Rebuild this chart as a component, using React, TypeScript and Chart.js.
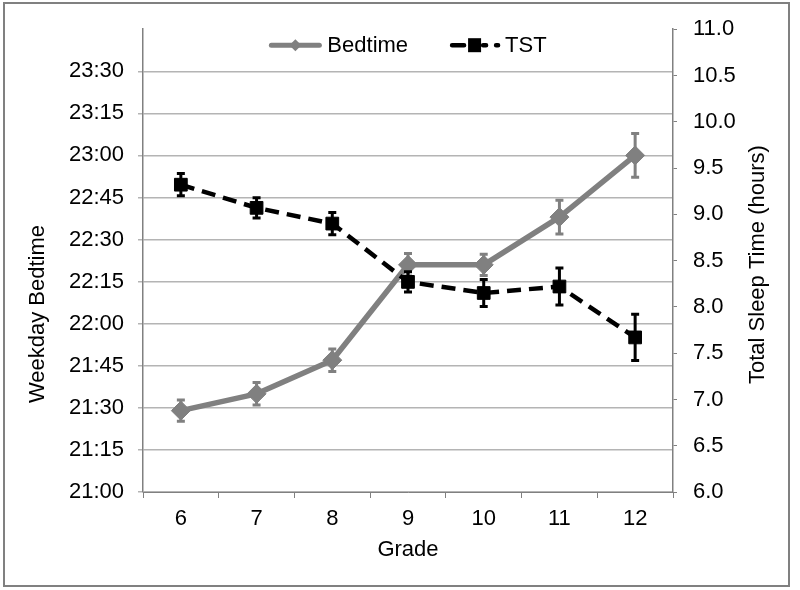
import React, { useEffect, useRef } from 'react';
import { Chart, registerables } from 'chart.js';

Chart.register(...registerables);

// ---- data ----
const grades = ['6', '7', '8', '9', '10', '11', '12'];
const bedtimes = ['21:29', '21:35', '21:47', '22:21', '22:21', '22:38', '23:00'];
const bedtimeErrMinutes = [3.8, 4, 4, 4, 3.8, 6, 7.8];
const tstHours = [9.32, 9.07, 8.9, 8.27, 8.15, 8.22, 7.67];
const tstErrHours = [0.12, 0.11, 0.12, 0.11, 0.145, 0.2, 0.25];
const bedtimeAxisRange = ['21:00', '23:45'];
const bedtimeStepMinutes = 15;
const tstAxisRange = [6, 11];
const tstStep = 0.5;

const toMin = (s: string) => {
  const [h, m] = s.split(':').map(Number);
  return h * 60 + m;
};
const fmtMin = (v: number) => {
  const h = Math.floor(v / 60);
  const m = Math.round(v - h * 60);
  return `${h}:${String(m).padStart(2, '0')}`;
};

const FONT = "'Liberation Sans', Arial, sans-serif";
const GRAY = '#808080';
const GRID = '#b4b4b4';

const errorBars = {
  id: 'errorBars',
  beforeDatasetDraw(chart: any, args: any) {
    const ds = chart.data.datasets[args.index];
    const errs = ds.errors;
    if (!errs) return;
    const scale = chart.scales[ds.yAxisID];
    const ctx = chart.ctx;
    ctx.save();
    ctx.strokeStyle = ds.errorColor;
    ctx.lineWidth = ds.errorWidth;
    ctx.setLineDash([]);
    args.meta.data.forEach((pt: any, i: number) => {
      const v = ds.data[i];
      const e = errs[i];
      const yt = scale.getPixelForValue(v + e);
      const yb = scale.getPixelForValue(v - e);
      const x = pt.x;
      const c = 4;
      ctx.beginPath();
      ctx.moveTo(x, yt);
      ctx.lineTo(x, yb);
      ctx.moveTo(x - c, yt);
      ctx.lineTo(x + c, yt);
      ctx.moveTo(x - c, yb);
      ctx.lineTo(x + c, yb);
      ctx.stroke();
    });
    ctx.restore();
  },
};

const drawVerticalTitle = (ctx: any, text: string, x: number, y: number) => {
  ctx.save();
  ctx.font = `22px ${FONT}`;
  ctx.fillStyle = '#000';
  ctx.textAlign = 'center';
  ctx.textBaseline = 'middle';
  ctx.translate(x, y);
  ctx.rotate(-Math.PI / 2);
  ctx.fillText(text, 0, 0);
  ctx.restore();
};

const extras = {
  id: 'extras',
  afterDraw(chart: any) {
    const ctx = chart.ctx;
    const area = chart.chartArea;
    // axis titles (both read bottom-to-top)
    drawVerticalTitle(ctx, 'Weekday Bedtime', chart.scales.y.left + 38, area.bottom - 178);
    drawVerticalTitle(ctx, 'Total Sleep Time (hours)', chart.scales.y2.right - 42, (area.top + area.bottom) / 2 + 4);

    // legend
    ctx.save();
    ctx.font = `22px ${FONT}`;
    ctx.textBaseline = 'middle';
    ctx.textAlign = 'left';
    const sampleW = 52;
    const t1 = chart.data.datasets[1].label;
    const t2 = chart.data.datasets[0].label;
    const w1 = ctx.measureText(t1).width;
    const w2 = ctx.measureText(t2).width;
    const gapText = 6;
    const gapItem = 42;
    const total = sampleW + gapText + w1 + gapItem + sampleW + 3 + w2;
    let x = (area.left + area.right) / 2 - total / 2;
    const y = area.top + 16;
    // Bedtime sample
    ctx.strokeStyle = GRAY;
    ctx.lineWidth = 5;
    ctx.lineCap = 'round';
    ctx.beginPath();
    ctx.moveTo(x + 2, y);
    ctx.lineTo(x + sampleW - 2, y);
    ctx.stroke();
    ctx.fillStyle = GRAY;
    const cx = x + sampleW / 2;
    ctx.beginPath();
    ctx.moveTo(cx - 6, y);
    ctx.lineTo(cx, y - 6);
    ctx.lineTo(cx + 6, y);
    ctx.lineTo(cx, y + 6);
    ctx.closePath();
    ctx.fill();
    x += sampleW + gapText;
    ctx.fillStyle = '#000';
    ctx.fillText(t1, x, y + 1);
    x += w1 + gapItem;
    // TST sample
    ctx.strokeStyle = '#000';
    ctx.lineWidth = 4.5;
    ctx.lineCap = 'round';
    ctx.beginPath();
    ctx.moveTo(x + 2, y);
    ctx.lineTo(x + 14, y);
    ctx.moveTo(x + 33, y);
    ctx.lineTo(x + 36, y);
    ctx.moveTo(x + 46, y);
    ctx.lineTo(x + 48, y);
    ctx.stroke();
    ctx.fillStyle = '#000';
    ctx.fillRect(x + 18, y - 7, 13, 14);
    x += sampleW + 3;
    ctx.fillText(t2, x, y + 1);
    ctx.restore();
  },
};

export default function App() {
  const ref = useRef<HTMLCanvasElement | null>(null);

  useEffect(() => {
    if (!ref.current) return;
    Chart.defaults.font.family = FONT;
    Chart.defaults.font.size = 22;
    Chart.defaults.color = '#000';
    const bedMin = bedtimes.map(toMin);
    const yMin = toMin(bedtimeAxisRange[0]);
    const yMax = toMin(bedtimeAxisRange[1]);

    const chart = new Chart(ref.current, {
      type: 'line',
      data: {
        labels: grades,
        datasets: [
          {
            label: 'TST',
            data: tstHours,
            yAxisID: 'y2',
            borderColor: '#000',
            backgroundColor: '#000',
            borderWidth: 4.5,
            borderDash: [14, 8],
            borderCapStyle: 'butt',
            pointStyle: 'rect',
            pointRadius: 9,
            pointBorderWidth: 1,
            pointBackgroundColor: '#000',
            pointBorderColor: '#000',
            tension: 0,
            order: 0,
            errors: tstErrHours,
            errorColor: '#000',
            errorWidth: 3,
          } as any,
          {
            label: 'Bedtime',
            data: bedMin,
            yAxisID: 'y',
            borderColor: GRAY,
            backgroundColor: GRAY,
            borderWidth: 5.5,
            borderJoinStyle: 'round',
            pointStyle: 'rectRot',
            pointRadius: 9.5,
            pointBorderWidth: 1,
            pointBackgroundColor: GRAY,
            pointBorderColor: GRAY,
            tension: 0,
            order: 1,
            errors: bedtimeErrMinutes,
            errorColor: GRAY,
            errorWidth: 3,
          } as any,
        ],
      },
      options: {
        animation: false,
        responsive: false,
        maintainAspectRatio: false,
        layout: { padding: { top: 26, left: 0, right: 0, bottom: 0 } },
        plugins: {
          legend: { display: false },
          tooltip: { enabled: false },
        },
        scales: {
          x: {
            type: 'category',
            offset: true,
            grid: {
              offset: true,
              drawOnChartArea: false,
              drawTicks: true,
              tickLength: 6,
              color: GRAY,
            },
            border: { color: GRAY, width: 1 },
            ticks: { padding: 8, font: { size: 22 }, color: '#000' },
            title: {
              display: true,
              text: 'Grade',
              font: { size: 22 },
              color: '#000',
              padding: { top: 0, bottom: 27 },
            },
            afterFit: (s: any) => {
              s.height = 98;
            },
          },
          y: {
            type: 'linear',
            position: 'left',
            min: yMin,
            max: yMax,
            ticks: {
              stepSize: bedtimeStepMinutes,
              callback: (v: any) => fmtMin(Number(v)),
              padding: 14,
              font: { size: 22 },
              color: '#000',
            },
            afterBuildTicks: (s: any) => {
              s.ticks = s.ticks.filter((t: any) => t.value < yMax);
            },
            grid: {
              color: GRID,
              tickColor: GRID,
              tickLength: 5,
              lineWidth: 1.5,
            },
            border: { color: GRAY, width: 1.5 },
            afterFit: (s: any) => {
              s.width = 143;
            },
          },
          y2: {
            type: 'linear',
            position: 'right',
            min: tstAxisRange[0],
            max: tstAxisRange[1],
            ticks: {
              stepSize: tstStep,
              callback: (v: any) => Number(v).toFixed(1),
              padding: 16,
              font: { size: 22 },
              color: '#000',
            },
            grid: {
              drawOnChartArea: false,
              color: GRAY,
              tickLength: 4,
            },
            border: { color: GRAY, width: 1.5 },
            afterFit: (s: any) => {
              s.width = 127;
            },
          },
        },
      } as any,
      plugins: [errorBars, extras],
    });
    return () => chart.destroy();
  }, []);

  return (
    <div style={{ position: 'absolute', left: 0, top: 0, width: 800, height: 590, background: '#fff' }}>
      <canvas ref={ref} width={800} height={590} style={{ display: 'block', width: 800, height: 590 }} />
      <div
        style={{
          position: 'absolute',
          left: 3,
          top: 2,
          width: 787,
          height: 585,
          boxSizing: 'border-box',
          border: '2px solid #808080',
          pointerEvents: 'none',
        }}
      />
    </div>
  );
}
